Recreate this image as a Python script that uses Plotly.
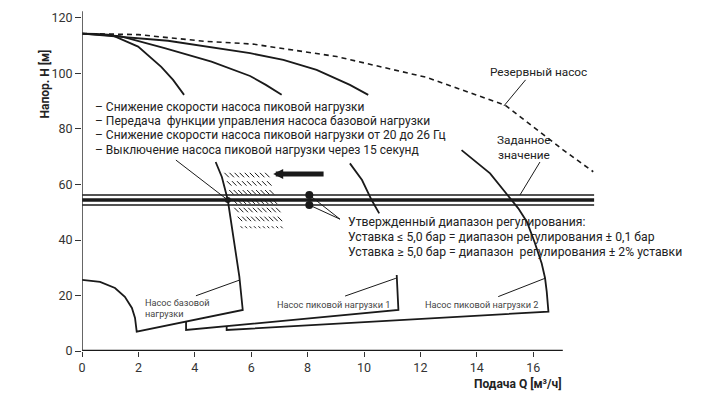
import numpy as np
import plotly.graph_objects as go

# ---------------- data ----------------
x_ticks = [0, 2, 4, 6, 8, 10, 12, 14, 16]
y_ticks = [0, 20, 40, 60, 80, 100, 120]

# reserve pump (dashed)
reserve_q = [0, 2.0, 4.35, 6.06, 9.03, 12.22, 15.0, 16.48, 17.07, 18.13]
reserve_h = [114.4, 114.0, 111.6, 110.6, 106.1, 98.6, 88.6, 77.2, 72.4, 64.6]

# curve A (base pump) upper part + lower part with base polygon
curveA_q = [0, 0.5, 1.04, 1.99, 2.81, 3.23, 3.62, None,
            4.74, 4.96, 5.17, 5.37, 5.58, 5.70,
            1.94, 1.88, 1.77, 1.52, 1.17, 0.64, 0]
curveA_h = [114.4, 114.3, 113.9, 109.7, 102.4, 97.7, 92.3, None,
            68.1, 62.7, 54.4, 40.0, 26.8, 14.8,
            7.0, 11.9, 15.5, 19.5, 22.7, 24.9, 25.6]

# curve B (peak pump 1)
curveB_q = [0, 1.35, 2.93, 4.59, 5.96, 6.52, 7.08, None,
            9.50, 9.93, 10.27, 10.54]
curveB_h = [114.4, 113.5, 109.1, 104.3, 99.1, 95.9, 92.3, None,
            67.6, 61.6, 54.4, 49.6]

# peak pump 1 polygon
poly1_q = [3.69, 3.69, 11.22, 11.16]
poly1_h = [10.6, 7.57, 14.8, 27.4]

# curve C (peak pump 2) + polygon 2
curveC_q = [0, 3.05, 5.96, 7.14, 8.32, 9.50, 10.15, None,
            13.46, 14.47, 15.47, 15.78, 16.06, 16.30, 16.42, 16.48, 16.54,
            5.13, 5.13]
curveC_h = [114.4, 111.8, 107.3, 104.9, 101.3, 95.9, 92.3, None,
            72.4, 64.0, 51.4, 46.5, 38.9, 31.6, 26.3, 21.4, 14.2,
            7.57, 8.9]

# setpoint band
band_q = [0, 18.16]
band_upper = 56.2
band_mid = 54.4
band_lower = 52.6

# dots
dots_q = [8.06, 8.06]
dots_h = [56.2, 52.6]
dotA_q = [5.17]
dotA_h = [54.4]

# hatch rows: start q, end q, head, count
hatch_start = [5.13, 5.22, 5.30, 5.42, 5.48, 5.60, 5.66]
hatch_end = [6.57, 6.64, 6.73, 6.84, 6.96, 7.02, 7.08]
hatch_h = [63.4, 60.4, 57.2, 53.8, 50.8, 47.6, 44.6]
hatch_n = [9, 9, 10, 10, 10, 10, 10]

# pointer lines (q0, h0, q1, h1)
pointers = [
    (15.73, 97.7, 14.96, 88.3),   # Резервный насос
    (16.24, 68.1, 15.53, 56.2),   # Заданное значение
    (3.33, 68.8, 5.17, 54.4),     # list -> base curve
    (8.06, 56.2, 9.15, 47.5),     # dot -> text
    (8.06, 52.6, 9.15, 47.5),     # dot -> text
    (4.04, 19.9, 5.60, 25.6),     # base label
    (9.33, 19.8, 11.13, 26.2),    # peak 1 label
    (14.76, 19.6, 16.42, 26.2),   # peak 2 label
]

# arrow
arrow_tip = (6.78, 63.8)
arrow_tail = (8.62, 63.8)

list_lines = [
    "– Снижение скорости насоса пиковой нагрузки",
    "– Передача  функции управления насоса базовой нагрузки",
    "– Снижение скорости насоса пиковой нагрузки от 20 до 26 Гц",
    "– Выключение насоса пиковой нагрузки через 15 секунд",
]
list_h = [88.0, 83.0, 77.8, 72.4]
list_q = 0.39

range_lines = [
    "Утвержденный диапазон регулирования:",
    "Уставка ≤ 5,0 бар = диапазон регулирования ± 0,1 бар",
    "Уставка ≥ 5,0 бар = диапазон  регулирования ± 2% уставки",
]
range_h = [46.6, 41.1, 35.7]
range_q = 9.36

# ---------------- figure ----------------
BLACK = "#1a1a1a"
fig = go.Figure()

def line(q, h, width=1.8, dash=None, color=BLACK):
    fig.add_trace(go.Scatter(x=q, y=h, mode="lines", hoverinfo="skip",
                             line=dict(color=color, width=width, dash=dash),
                             connectgaps=False))

line(reserve_q, reserve_h, width=1.6, dash="5px,4px")
line(curveA_q, curveA_h)
line(curveB_q, curveB_h)
line(poly1_q, poly1_h)
line(curveC_q, curveC_h)

line(band_q, [band_upper] * 2, width=1.4)
line(band_q, [band_mid] * 2, width=3.4)
line(band_q, [band_lower] * 2, width=1.4)

for (q0, h0, q1, h1) in pointers:
    line([q0, q1], [h0, h1], width=1.0)

# hatch
hq, hh, hq2, hh2 = [], [], [], []
for i, (s, e, h, n) in enumerate(zip(hatch_start, hatch_end, hatch_h, hatch_n)):
    qs = np.linspace(s, e, n)
    if i < len(hatch_h) - 1:
        hq += list(qs); hh += [h] * n
    else:
        hq2 += list(qs); hh2 += [h] * n
fig.add_trace(go.Scatter(x=hq, y=hh, mode="markers", hoverinfo="skip",
                         marker=dict(symbol="line-nw", size=4.5,
                                     line=dict(color=BLACK, width=1))))
fig.add_trace(go.Scatter(x=hq2, y=hh2, mode="markers", hoverinfo="skip",
                         marker=dict(symbol="line-nw", size=2,
                                     line=dict(color=BLACK, width=1))))

fig.add_trace(go.Scatter(x=dots_q, y=dots_h, mode="markers", hoverinfo="skip",
                         marker=dict(color=BLACK, size=8)))
fig.add_trace(go.Scatter(x=dotA_q, y=dotA_h, mode="markers", hoverinfo="skip",
                         marker=dict(color=BLACK, size=6)))

FONT = "Roboto"
ann = []
for t, h in zip(list_lines, list_h):
    ann.append(dict(x=list_q, y=h, text=t, showarrow=False, xanchor="left",
                    yanchor="middle", font=dict(size=12, color="#222", family=FONT)))
for t, h in zip(range_lines, range_h):
    ann.append(dict(x=range_q, y=h, text=t, showarrow=False, xanchor="left",
                    yanchor="middle", font=dict(size=12.2, color="#222", family=FONT)))
ann += [
    dict(x=16.2, y=100.4, text="Резервный насос", showarrow=False,
         font=dict(size=11.8, color="#222", family=FONT)),
    dict(x=15.66, y=76.0, text="Заданное", showarrow=False,
         font=dict(size=11.8, color="#222", family=FONT)),
    dict(x=15.66, y=70.6, text="значение", showarrow=False,
         font=dict(size=11.8, color="#222", family=FONT)),
    dict(x=2.15, y=17.5, text="Насос базовой", showarrow=False, xanchor="left",
         font=dict(size=9.2, color="#444", family=FONT)),
    dict(x=2.15, y=13.5, text="нагрузки", showarrow=False, xanchor="left",
         font=dict(size=9.2, color="#444", family=FONT)),
    dict(x=8.93, y=16.6, text="Насос пиковой нагрузки 1", showarrow=False,
         font=dict(size=9.2, color="#444", family=FONT)),
    dict(x=14.18, y=16.6, text="Насос пиковой нагрузки 2", showarrow=False,
         font=dict(size=9.2, color="#444", family=FONT)),
    dict(xref="paper", yref="paper", x=-0.0907, y=0.885,
         text="<b>Напор. H [м]</b>", showarrow=False,
         textangle=-90, font=dict(size=12, color="#222", family=FONT)),
    dict(xref="paper", yref="paper", x=0.929, y=-0.0942,
         text="<b>Подача Q [м³/ч]</b>", showarrow=False,
         xanchor="right", yanchor="middle",
         font=dict(size=12, color="#222", family=FONT)),
    dict(x=arrow_tip[0], y=arrow_tip[1], ax=arrow_tail[0], ay=arrow_tail[1],
         axref="x", ayref="y", text="", showarrow=True, arrowhead=2,
         arrowsize=0.4, arrowwidth=5, arrowcolor=BLACK),
]

shapes = [
    dict(type="line", xref="x", yref="y", x0=0, y0=0, x1=17.05, y1=0,
         line=dict(color=BLACK, width=2.6)),
    dict(type="line", xref="x", yref="y", x0=0, y0=0, x1=0, y1=122.4,
         line=dict(color="#333", width=1.5)),
]

fig.update_layout(
    width=709, height=394,
    margin=dict(l=82, r=109, t=8, b=43, autoexpand=False),
    plot_bgcolor="white", paper_bgcolor="white",
    showlegend=False,
    font=dict(family=FONT, color="#333"),
    annotations=ann, shapes=shapes,
    xaxis=dict(range=[0, 18.369], showgrid=False, zeroline=False, showline=False,
               ticks="outside", ticklen=5, tickwidth=1.2, tickcolor="#333",
               tickvals=x_ticks, tickfont=dict(size=12.5, color="#333"),
               automargin=False, fixedrange=True),
    yaxis=dict(range=[0, 123.6], showgrid=False, zeroline=False, showline=False,
               ticks="outside", ticklen=6, tickwidth=1.2, tickcolor="#333",
               tickvals=y_ticks, tickfont=dict(size=12.5, color="#333"),
               automargin=False, fixedrange=True),
)

fig.write_html("out.html", config={"displayModeBar": False},
               post_script="document.body.style.margin='0';document.body.style.overflow='hidden';")
